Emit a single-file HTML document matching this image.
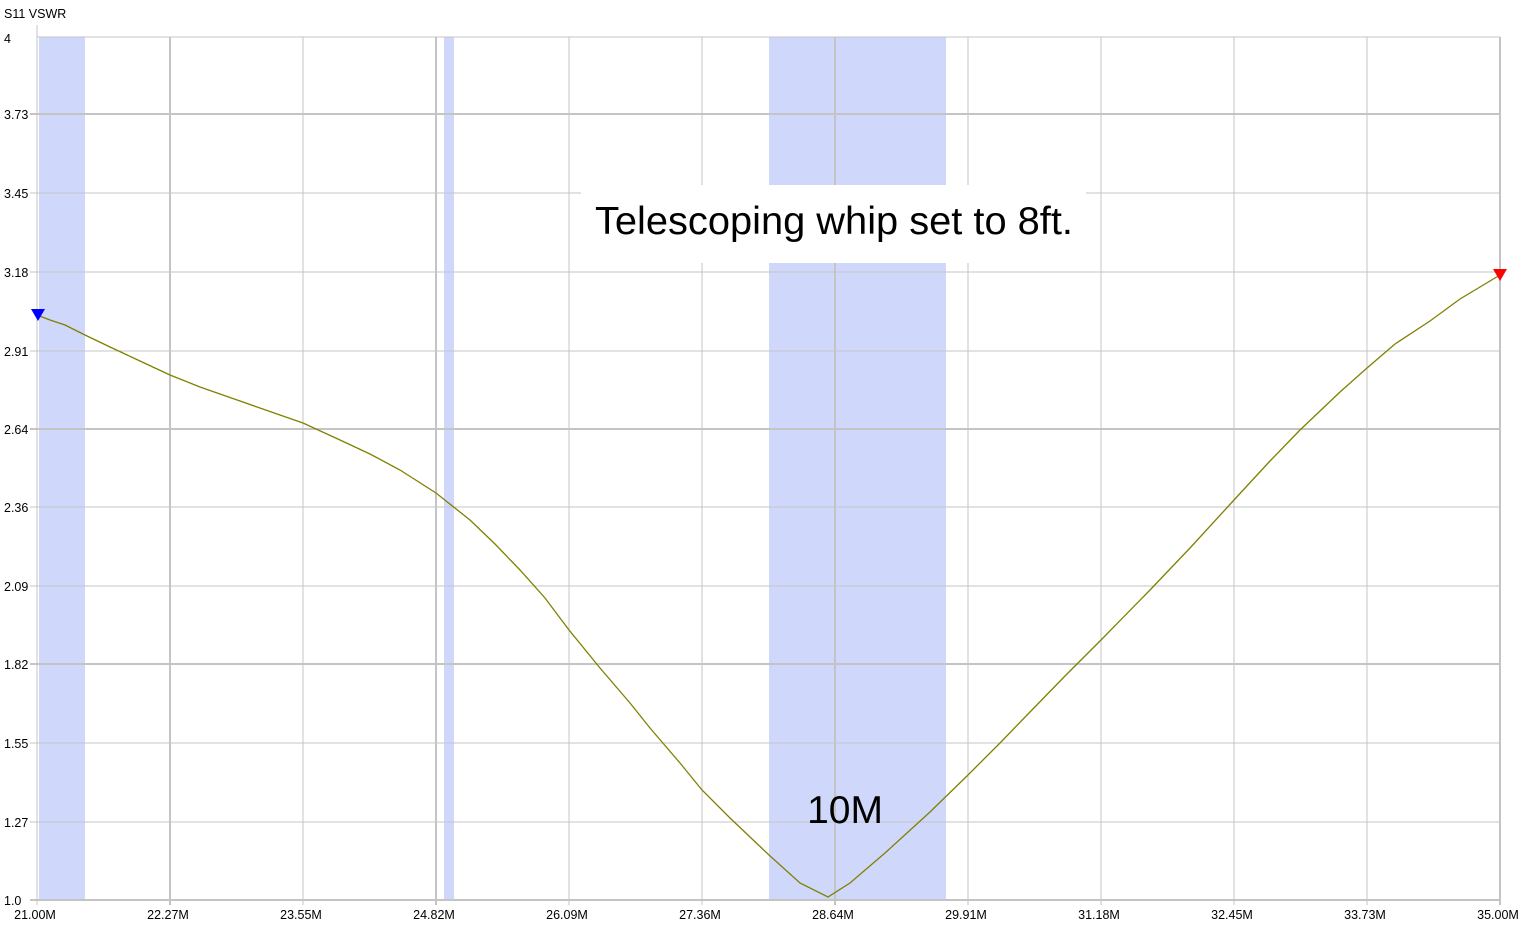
<!DOCTYPE html>
<html><head><meta charset="utf-8"><style>
body{margin:0;background:#fff;}
svg text{font-family:"Liberation Sans",sans-serif;}
</style></head><body>
<svg width="1525" height="926" xmlns="http://www.w3.org/2000/svg">
<rect width="1525" height="926" fill="#fff"/>
<g fill="#cfd8fb">
<rect x="39" y="37" width="46" height="863"/>
<rect x="444" y="37" width="10" height="863"/>
<rect x="769" y="37" width="177" height="863"/>
</g>
<g stroke="#c4c4c4" stroke-width="1">
<line x1="37" y1="37" x2="1500" y2="37"/>
<line x1="30" y1="114" x2="1500" y2="114" stroke-width="2"/>
<line x1="30" y1="193" x2="1500" y2="193"/>
<line x1="30" y1="272" x2="1500" y2="272"/>
<line x1="30" y1="351" x2="1500" y2="351"/>
<line x1="30" y1="429" x2="1500" y2="429" stroke-width="2"/>
<line x1="30" y1="507" x2="1500" y2="507"/>
<line x1="30" y1="586" x2="1500" y2="586"/>
<line x1="30" y1="664" x2="1500" y2="664" stroke-width="2"/>
<line x1="30" y1="743" x2="1500" y2="743"/>
<line x1="30" y1="822" x2="1500" y2="822"/>
<line x1="30" y1="900" x2="1500" y2="900" stroke-width="2"/>
<line x1="37" y1="25" x2="37" y2="905"/>
<line x1="170" y1="37" x2="170" y2="905" stroke-width="2"/>
<line x1="303" y1="37" x2="303" y2="905"/>
<line x1="436" y1="37" x2="436" y2="905" stroke-width="2"/>
<line x1="569" y1="37" x2="569" y2="905"/>
<line x1="702" y1="37" x2="702" y2="905"/>
<line x1="835" y1="37" x2="835" y2="905" stroke-width="2"/>
<line x1="968" y1="37" x2="968" y2="905"/>
<line x1="1101" y1="37" x2="1101" y2="905"/>
<line x1="1234" y1="37" x2="1234" y2="905"/>
<line x1="1367" y1="37" x2="1367" y2="905"/>
<line x1="1500" y1="37" x2="1500" y2="905" stroke-width="2"/>
</g>
<rect x="581" y="185" width="505" height="78" fill="#fff"/>
<text x="834" y="234" font-size="39" text-anchor="middle" fill="#000" textLength="478" lengthAdjust="spacingAndGlyphs">Telescoping whip set to 8ft.</text>
<text x="845" y="823" font-size="39" text-anchor="middle" fill="#000">10M</text>
<polyline fill="none" stroke="#808000" stroke-width="1.3" points="37,315 50,320 65,325 85,335 110,347 140,361 170,375 200,387 240,401 280,415 303,423 340,440 370,454 400,470 436,493 470,520 495,544 520,570 545,598 569,630 600,668 630,703 650,728 680,763 702,790 730,818 769,855 800,883 828,897 850,883 885,853 930,812 968,775 1000,743 1030,712 1065,676 1101,640 1150,590 1190,548 1234,500 1270,461 1300,430 1340,392 1367,368 1395,344 1430,321 1460,299 1500,275"/>
<polygon points="31,309 45,309 38,321" fill="#0000ff"/>
<polygon points="1493,269 1507,269 1500,281" fill="#ff0000"/>
<g font-size="12.5" fill="#000">
<text x="4" y="18">S11 VSWR</text>
<text x="4" y="43">4</text>
<text x="4" y="119">3.73</text>
<text x="4" y="198">3.45</text>
<text x="4" y="277">3.18</text>
<text x="4" y="356">2.91</text>
<text x="4" y="434">2.64</text>
<text x="4" y="512">2.36</text>
<text x="4" y="591">2.09</text>
<text x="4" y="669">1.82</text>
<text x="4" y="748">1.55</text>
<text x="4" y="827">1.27</text>
<text x="4" y="905">1.0</text>
</g>
<g font-size="12.5" fill="#000" text-anchor="middle">
<text x="35" y="919">21.00M</text>
<text x="168" y="919">22.27M</text>
<text x="301" y="919">23.55M</text>
<text x="434" y="919">24.82M</text>
<text x="567" y="919">26.09M</text>
<text x="700" y="919">27.36M</text>
<text x="833" y="919">28.64M</text>
<text x="966" y="919">29.91M</text>
<text x="1099" y="919">31.18M</text>
<text x="1232" y="919">32.45M</text>
<text x="1365" y="919">33.73M</text>
<text x="1498" y="919">35.00M</text>
</g>
</svg>
</body></html>
